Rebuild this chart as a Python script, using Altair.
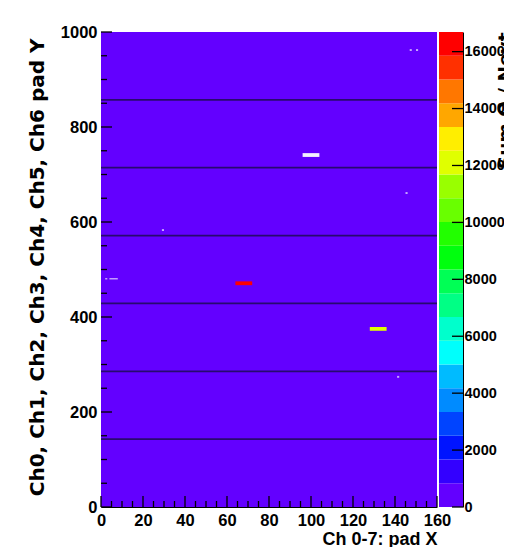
import altair as alt
import pandas as pd

# ---------------- data ----------------
# ROOT "pretty" palette sampled at 20 contour levels (low -> high)
palette = ["#6300ff", "#3300ff", "#0014ff", "#0044ff", "#008bff",
           "#00bbff", "#00fffc", "#00ffcc", "#00ff85", "#00ff55",
           "#00ff0e", "#22ff00", "#69ff00", "#99ff00", "#e0ff00",
           "#ffee00", "#ffa700", "#ff7700", "#ff3000", "#ff0000"]
zmax = 16690

x_major = [0, 20, 40, 60, 80, 100, 120, 140, 160]
y_major = [0, 200, 400, 600, 800, 1000]
z_major = [0, 2000, 4000, 6000, 8000, 10000, 12000, 14000, 16000]
x_minor = [v for v in range(0, 161, 5) if v % 20]
y_minor = [v for v in range(0, 1001, 50) if v % 200]

channel_lines = [142.86, 285.71, 428.57, 571.43, 714.29, 857.14]

# whole pad plane (low occupancy)
bg_x0 = [0]; bg_x1 = [160]; bg_y0 = [0]; bg_y1 = [1000]; bg_val = [300]

# hot bins
hot_x0 = [64, 128]
hot_x1 = [72, 136]
hot_y0 = [467, 371]
hot_y1 = [475, 379]
hot_val = [16690, 12100]

# empty (dead) bins
dead_x0 = [96]; dead_x1 = [104]; dead_y0 = [737]; dead_y1 = [745]
weak_x0 = [147, 150, 145, 29, 2, 4, 141]
weak_x1 = [148, 151, 146, 30, 3, 8, 142]
weak_y0 = [960, 960, 659, 581, 479, 479, 272]
weak_y1 = [964, 964, 663, 585, 482, 482, 276]

# ---------------- tables ----------------
bg_df = pd.DataFrame({"x0": bg_x0, "x1": bg_x1, "y0": bg_y0, "y1": bg_y1, "value": bg_val})
hot_df = pd.DataFrame({"x0": hot_x0, "x1": hot_x1, "y0": hot_y0, "y1": hot_y1, "value": hot_val})
dead_df = pd.DataFrame({"x0": dead_x0, "x1": dead_x1, "y0": dead_y0, "y1": dead_y1})
weak_df = pd.DataFrame({"x0": weak_x0, "x1": weak_x1, "y0": weak_y0, "y1": weak_y1})
line_df = pd.DataFrame({"y": channel_lines})
ymaj_df = pd.DataFrame({"y": y_major})
ymin_df = pd.DataFrame({"y": y_minor})
xmaj_df = pd.DataFrame({"x": x_major})
xmin_df = pd.DataFrame({"x": x_minor})
step = zmax / len(palette)
cb_df = pd.DataFrame({
    "lo": [k * step for k in range(len(palette))],
    "hi": [(k + 1) * step for k in range(len(palette))],
    "mid": [(k + 0.5) * step for k in range(len(palette))],
    "c0": [0] * len(palette), "c1": [1] * len(palette),
})
zt_df = pd.DataFrame({"t": z_major})

# ---------------- style ----------------
LF = "'Liberation Sans', Arial, sans-serif"
TF = "'DejaVu Sans', sans-serif"
W_PLOT, H = 336, 475
W_ALL = 362

cs = alt.Scale(type="threshold", domain=[step * k for k in range(1, len(palette))], range=palette)
xs = alt.Scale(domain=[0, 160], range=[0, W_PLOT], nice=False, zero=False)
ys = alt.Scale(domain=[0, 1000], nice=False, zero=False)
zs = alt.Scale(domain=[0, zmax], nice=False, zero=False)
cbx = alt.Scale(domain=[0, 1], range=[338, W_ALL], nice=False, zero=False)

common_lab = dict(labelFont=LF, labelFontWeight="bold", labelColor="black",
                  labelFlush=False, labelOverlap=False, ticks=False, tickSize=0, grid=False,
                  format="d")

xaxis = alt.Axis(values=x_major, title="Ch 0-7: pad X", labelPadding=5, labelFontSize=16.5,
                 domainColor="black", domainWidth=1,
                 titleFont=LF, titleFontSize=18, titleFontWeight="bold", titleColor="black",
                 titleAlign="right", titleBaseline="alphabetic", titleX=W_PLOT, titleY=37,
                 **common_lab)
yaxis = alt.Axis(values=y_major, title="Ch0, Ch1, Ch2, Ch3, Ch4, Ch5, Ch6 pad Y", labelPadding=4,
                 labelFontSize=16.5, domainColor="#888888", domainWidth=1,
                 titleFont=TF, titleFontSize=20, titleFontWeight="bold", titleColor="black",
                 titleAngle=270, titleAlign="right", titleBaseline="alphabetic",
                 titleX=-57.5, titleY=6, **common_lab)
zaxis = alt.Axis(orient="right", values=z_major, title="Sum Q / Nevt", labelPadding=1,
                 labelFontSize=14.5, domainColor="black", domainWidth=1,
                 titleFont=TF, titleFontSize=18.5, titleFontWeight="bold", titleColor="black",
                 titleAngle=270, titleAlign="right", titleBaseline="alphabetic",
                 titleX=47, titleY=0, **common_lab)

X = lambda f: alt.X(f, scale=xs, axis=xaxis)
Y = lambda f: alt.Y(f, scale=ys, axis=yaxis)

bg = alt.Chart(bg_df).mark_rect().encode(
    x=X("x0:Q"), x2="x1", y=Y("y0:Q"), y2="y1",
    color=alt.Color("value:Q", scale=cs, legend=None))
hot = alt.Chart(hot_df).mark_rect().encode(
    x=X("x0:Q"), x2="x1", y=Y("y0:Q"), y2="y1",
    color=alt.Color("value:Q", scale=cs, legend=None))
dead = alt.Chart(dead_df).mark_rect(color="#f4f0ff").encode(
    x=X("x0:Q"), x2="x1", y=Y("y0:Q"), y2="y1")
weak = alt.Chart(weak_df).mark_rect(color="white", opacity=0.65).encode(
    x=X("x0:Q"), x2="x1", y=Y("y0:Q"), y2="y1")
lines = alt.Chart(line_df).mark_rule(color="#280a6e", strokeWidth=1.8).encode(
    y=Y("y:Q"), x=alt.value(0), x2=alt.value(W_PLOT))
ytm = alt.Chart(ymaj_df).mark_rule(color="black", strokeWidth=1.3).encode(
    y=Y("y:Q"), x=alt.value(0), x2=alt.value(11))
ytn = alt.Chart(ymin_df).mark_rule(color="black", strokeWidth=1.3).encode(
    y=Y("y:Q"), x=alt.value(0), x2=alt.value(6))
xtm = alt.Chart(xmaj_df).mark_rule(color="black", strokeWidth=1.3).encode(
    x=X("x:Q"), y=alt.value(H), y2=alt.value(H - 11))
xtn = alt.Chart(xmin_df).mark_rule(color="black", strokeWidth=1.3).encode(
    x=X("x:Q"), y=alt.value(H), y2=alt.value(H - 6))

main = alt.layer(bg, hot, dead, weak, lines, ytm, ytn, xtm, xtn)

bands = alt.Chart(cb_df).mark_rect().encode(
    x=alt.X("c0:Q", scale=cbx, axis=None), x2="c1",
    y=alt.Y("lo:Q", scale=zs, axis=zaxis), y2="hi",
    color=alt.Color("mid:Q", scale=cs, legend=None))
ztk = alt.Chart(zt_df).mark_rule(color="black", strokeWidth=1.3).encode(
    y=alt.Y("t:Q", scale=zs, axis=zaxis), x=alt.value(W_ALL - 11), x2=alt.value(W_ALL))
cb = alt.layer(bands, ztk)

chart = alt.layer(main, cb).resolve_scale(x="independent", y="independent").properties(
    width=W_ALL, height=H,
    autosize=alt.AutoSizeParams(type="none"),
    padding={"left": 93, "top": 24, "right": 41, "bottom": 40},
).configure(background="white").configure_view(stroke=None)

chart.save("out.html", embed_options={"renderer": "svg", "actions": False})
